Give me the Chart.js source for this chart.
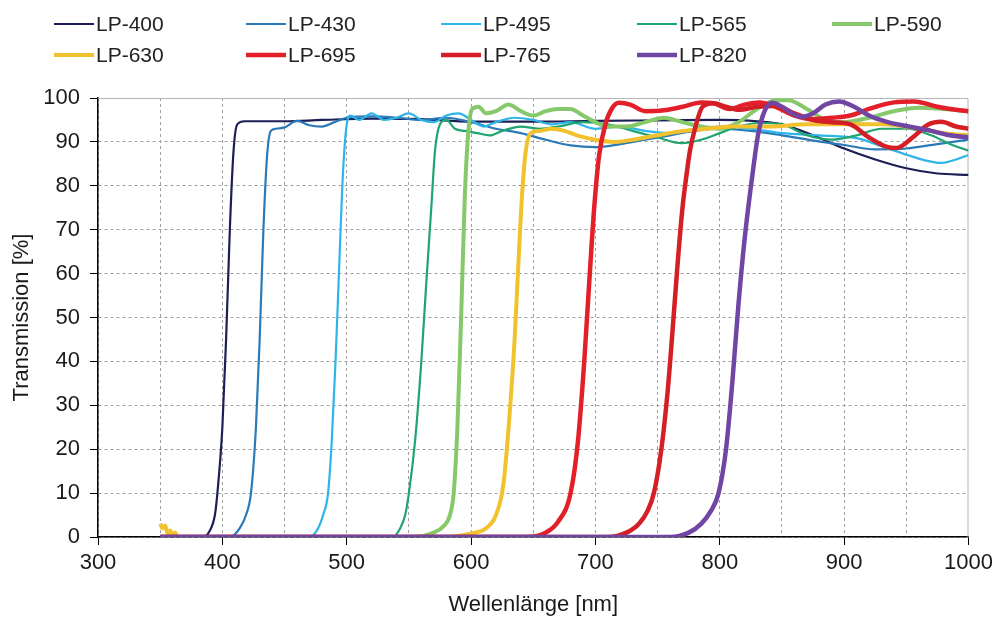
<!DOCTYPE html>
<html>
<head>
<meta charset="utf-8">
<script src="https://cdn.jsdelivr.net/npm/chart.js@4.4.1/dist/chart.umd.min.js"></script>
<style>
  html, body { margin: 0; padding: 0; background: #fff; }
</style>
</head>
<body>
<canvas id="chart" width="998" height="619"></canvas>
<script>
// filter names
var names = ['LP-400', 'LP-430', 'LP-495', 'LP-565', 'LP-590', 'LP-630', 'LP-695', 'LP-765', 'LP-820'];

// wavelength [nm] / transmission [%] per filter
var nm400 = [350, 384, 390, 394, 396, 400, 403, 406, 409, 412, 418, 450, 480, 520, 560, 600, 650, 700, 750, 800, 830, 850, 875, 900, 925, 950, 975, 1000];
var tr400 = [0, 0, 1.5, 5, 10, 25, 45, 70, 88, 94, 94.7, 94.7, 95, 95.3, 95.2, 94.6, 94.6, 94.8, 94.9, 95, 94.7, 94, 91.5, 88.5, 86, 84, 82.8, 82.5];

var nm430 = [350, 406, 414, 419, 423, 427, 430, 433, 436, 439, 443, 450, 460, 470, 480, 490, 500, 520, 540, 560, 580, 600, 620, 640, 660, 680, 700, 720, 740, 760, 780, 800, 825, 850, 875, 900, 925, 950, 975, 1000];
var tr430 = [0, 0, 2, 5, 10, 25, 45, 70, 87, 92.5, 93, 93.3, 94.8, 93.8, 93.5, 94.5, 95.5, 95.8, 95.5, 95, 95.5, 94.5, 93, 92, 90.5, 89.2, 88.8, 89.5, 90.5, 91.5, 92.5, 93, 92.5, 91.5, 90.3, 89.3, 88.3, 88.5, 89.5, 90.5];

var nm495 = [350, 470, 477, 481, 485, 488, 491, 494, 497, 500, 503, 510, 520, 530, 540, 550, 560, 570, 580, 590, 600, 610, 620, 635, 650, 665, 680, 700, 720, 740, 760, 780, 800, 825, 850, 880, 911, 930, 951, 965, 978, 990, 1000];
var tr495 = [0, 0, 2, 5, 10, 22, 40, 62, 83, 94, 96, 95, 96.5, 95, 95.5, 96.5, 95, 94.5, 96, 96.5, 95, 93.5, 94.5, 95.5, 95, 94, 94.5, 93, 93.5, 92.5, 92, 93, 93.5, 93, 92, 91.5, 90.8, 89, 87, 85.8, 85.2, 86, 87];

var nm565 = [350, 537, 543, 547, 550, 555, 560, 564, 568, 571, 575, 580, 587, 595, 605, 615, 625, 640, 655, 670, 690, 710, 730, 750, 769, 785, 800, 815, 831, 850, 870, 890, 910, 930, 950, 970, 985, 1000];
var tr565 = [0, 0, 2, 5, 10, 22, 40, 58, 75, 88, 94, 95, 93, 92.5, 92, 91.5, 92.5, 93.5, 93, 93.5, 94.5, 94, 92.5, 91, 89.7, 90.5, 92, 93.5, 94.3, 94, 91.5, 90.5, 91.5, 93, 93, 91.5, 89.5, 88];

var nm590 = [350, 553, 570, 578, 583, 586, 589, 592, 595, 598, 601, 606, 612, 620, 630, 640, 650, 660, 670, 680, 690, 700, 710, 725, 740, 755, 770, 785, 800, 815, 830, 845, 855, 870, 885, 900, 920, 940, 960, 980, 1000];
var tr590 = [0, 0, 1, 2.5, 5, 10, 25, 50, 78, 93, 97.5, 98, 96.5, 97, 98.5, 97, 96, 97, 97.5, 97.5, 96, 94.5, 93.5, 93.5, 94.5, 95.5, 94.5, 93.5, 93, 94.5, 97.5, 99.5, 99.5, 97.5, 95, 94.5, 95.5, 97, 97.8, 97.5, 97];

var nm630 = [350, 352, 354, 356, 358, 360, 362, 364, 580, 600, 612, 620, 626, 631, 635, 638, 641, 644, 648, 655, 665, 675, 685, 700, 715, 730, 750, 770, 790, 810, 840, 870, 900, 930, 960, 980, 1000];
var tr630 = [3, 2, 2.6, 0.8, 1.5, 0.3, 1, 0, 0, 0.8, 2, 5, 12, 28, 45, 62, 78, 88, 92, 92.5, 93, 92.5, 91.5, 90.5, 90, 90.5, 91.5, 92.5, 93, 93.5, 93.5, 94, 94, 94, 93, 92, 91.5];

var nm695 = [350, 645, 660, 670, 680, 686, 691, 695, 699, 703, 708, 713, 719, 728, 740, 755, 770, 785, 795, 808, 820, 832, 845, 860, 875, 890, 905, 920, 940, 956, 975, 990, 1000];
var tr695 = [0, 0, 1, 3.5, 10, 22, 40, 58, 75, 87, 94, 97.5, 98.9, 98.5, 97, 97.2, 98, 99, 98.8, 97.5, 98.5, 99, 98, 96, 95.2, 95.5, 96, 97.5, 99, 99.2, 98, 97.3, 97];

var nm765 = [350, 710, 725, 735, 742, 747, 753, 758, 762, 766, 770, 773, 776, 780, 786, 795, 805, 815, 830, 845, 860, 875, 890, 905, 920, 933, 942, 955, 968, 978, 990, 1000];
var tr765 = [0, 0, 1, 3, 6, 10, 20, 33, 47, 62, 75, 82, 88, 93, 98, 98.8, 98, 97.3, 98, 98.2, 96.5, 95, 94.5, 94, 91, 89, 88.6, 91, 94, 94.6, 93.5, 93];

var nm820 = [350, 760, 775, 785, 793, 799, 805, 810, 815, 820, 826, 831, 836, 842, 850, 858, 866, 875, 885, 896, 908, 920, 935, 952, 970, 985, 1000];
var tr820 = [0, 0, 1, 3, 6, 10, 20, 35, 53, 68, 82, 92, 97, 98.9, 98, 96.5, 95.7, 96.5, 98.5, 99.2, 98, 96, 94.5, 93.5, 92.5, 91.5, 91];

var nmSets = [nm400, nm430, nm495, nm565, nm590, nm630, nm695, nm765, nm820];
var trSets = [tr400, tr430, tr495, tr565, tr590, tr630, tr695, tr765, tr820];

var colors = ['#1c1f55', '#2a7ab8', '#2eb4e8', '#1fa56e', '#86c86a', '#f2c12e', '#e3202a', '#d41f26', '#7145a4'];
var widths = [2.2, 2.2, 2.2, 2.2, 4, 4, 4.5, 4.5, 4.5];

Chart.defaults.font.family = '"Liberation Sans", Arial, sans-serif';

// legend in a fixed 5-column grid
var legendCols = [54, 246, 441, 637, 832];
var legendRows = [24, 55];
var gridLegend = {
  id: 'gridLegend',
  afterDraw: function(chart) {
    var ctx = chart.ctx;
    ctx.save();
    ctx.font = '21px "Liberation Sans", Arial, sans-serif';
    ctx.textBaseline = 'middle';
    chart.data.datasets.forEach(function(ds, i) {
      var x = legendCols[i % 5], y = legendRows[Math.floor(i / 5)];
      ctx.strokeStyle = ds.borderColor;
      ctx.lineWidth = ds.borderWidth;
      ctx.beginPath();
      ctx.moveTo(x, y);
      ctx.lineTo(x + 40, y);
      ctx.stroke();
      ctx.fillStyle = '#222';
      ctx.fillText(ds.label, x + 42, y + 1);
    });
    ctx.restore();
  }
};

// solid light frame on top and right of the plot
var frame = {
  id: 'frame',
  beforeDatasetsDraw: function(chart) {
    var ctx = chart.ctx, a = chart.chartArea;
    ctx.save();
    ctx.strokeStyle = '#b5b5b5';
    ctx.lineWidth = 1;
    ctx.beginPath();
    ctx.moveTo(a.left, a.top + 0.5);
    ctx.lineTo(a.right - 0.5, a.top + 0.5);
    ctx.lineTo(a.right - 0.5, a.bottom);
    ctx.stroke();
    ctx.restore();
  }
};

new Chart(document.getElementById('chart'), {
  type: 'line',
  data: {
    datasets: names.map(function(n, i) {
      return {
        label: n,
        data: nmSets[i].map(function(x, j) { return {x: x, y: trSets[i][j]}; }),
        borderColor: colors[i],
        backgroundColor: colors[i],
        borderWidth: widths[i],
        pointRadius: 0,
        fill: false,
        order: 9 - i
      };
    })
  },
  options: {
    responsive: false,
    animation: false,
    layout: { padding: { top: 98, right: 28, left: 0, bottom: 0 } },
    elements: { line: { cubicInterpolationMode: 'monotone' } },
    plugins: { legend: { display: false }, tooltip: { enabled: false } },
    scales: {
      x: {
        type: 'linear', min: 300, max: 1000,
        ticks: {
          stepSize: 50, autoSkip: false, maxRotation: 0, padding: 5,
          color: '#1a1a1a', font: { size: 22 },
          callback: function(v) { return v % 100 === 0 ? v : ''; }
        },
        grid: {
          color: function(c) { return c.tick && c.tick.value >= 1000 ? 'transparent' : '#a0a0a0'; },
          tickColor: function(c) { return c.tick && c.tick.value % 100 === 0 ? '#000' : 'transparent'; },
          tickLength: 8, tickBorderDash: [], lineWidth: 1
        },
        border: { color: '#000', width: 1.5, dash: [3, 3] },
        title: { display: true, text: 'Wellenlänge [nm]', color: '#1a1a1a', font: { size: 22 }, padding: { top: 0, bottom: 1 } },
        afterFit: function(s) { s.height = 82; }
      },
      y: {
        min: 0, max: 100,
        ticks: { stepSize: 10, padding: 10, color: '#1a1a1a', font: { size: 22 } },
        grid: {
          color: function(c) { return c.tick && c.tick.value >= 100 ? 'transparent' : '#a0a0a0'; },
          tickColor: '#000', tickLength: 8, tickBorderDash: [], lineWidth: 1
        },
        border: { color: '#000', width: 1.5, dash: [3, 3] },
        title: { display: true, text: 'Transmission [%]', color: '#1a1a1a', font: { size: 22 }, padding: { top: 9, bottom: 0 } },
        afterFit: function(s) { s.width = 98; }
      }
    }
  },
  plugins: [frame, gridLegend]
});
</script>
</body>
</html>
